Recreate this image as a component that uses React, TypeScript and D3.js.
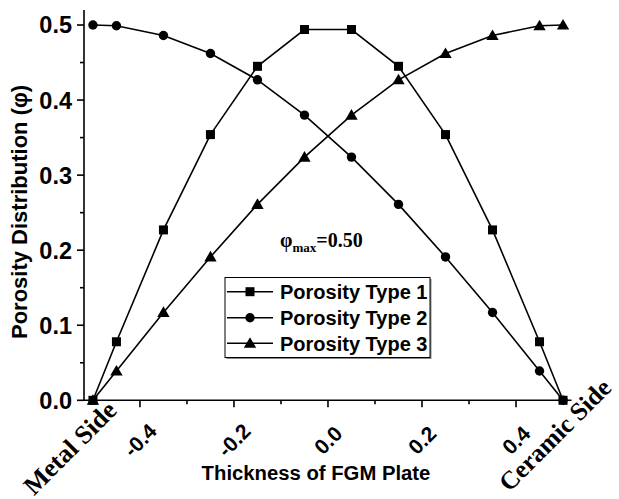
import React from "react";
import * as d3 from "d3";

// Through-thickness coordinate z/h of the FGM plate
const zPositions = [-0.5, -0.45, -0.35, -0.25, -0.15, -0.05, 0.05, 0.15, 0.25, 0.35, 0.45, 0.5];

// Porosity distribution for each porosity type
const type1 = [0, 0.078, 0.227, 0.354, 0.445, 0.494, 0.494, 0.445, 0.354, 0.227, 0.078, 0];
const type2 = [0.5, 0.499, 0.486, 0.462, 0.427, 0.38, 0.324, 0.261, 0.191, 0.117, 0.039, 0];
const type3 = [0, 0.039, 0.117, 0.191, 0.261, 0.324, 0.38, 0.427, 0.462, 0.486, 0.499, 0.5];

const seriesNames = ["Porosity Type 1", "Porosity Type 2", "Porosity Type 3"];
const seriesMarkers = ["square", "circle", "triangle"];

const xMajorTicks = [-0.4, -0.2, 0.0, 0.2, 0.4];
const xMinorTicks = [-0.5, -0.3, -0.1, 0.1, 0.3, 0.5];
const yMajorTicks = [0.0, 0.1, 0.2, 0.3, 0.4, 0.5];
const yMinorTicks = [0.05, 0.15, 0.25, 0.35, 0.45];

const W = 619;
const H = 499;
const left = 84;
const right = 571.5;
const top = 10;
const bottom = 400.3;

const sans = "'Liberation Sans', Arial, sans-serif";
const serif = "'Liberation Serif', 'Times New Roman', serif";

const fmt = (t: number) => t.toFixed(1);

function Marker({ kind, x, y }: { kind: string; x: number; y: number }) {
  if (kind === "square") {
    return <rect x={x - 4.5} y={y - 4.5} width={9} height={9} fill="#000" />;
  }
  if (kind === "circle") {
    return <circle cx={x} cy={y} r={4.7} fill="#000" />;
  }
  const s = d3.symbol(d3.symbolTriangle, 66)() as string;
  return <path d={s} transform={`translate(${x},${y + 1})`} fill="#000" />;
}

export default function App() {
  const x = d3.scaleLinear().domain([-0.519, 0.518]).range([left, right]);
  const y = d3.scaleLinear().domain([0, 0.52]).range([bottom, top]);
  const series = [type1, type2, type3];

  const line = d3
    .line<number>()
    .x((_, i) => x(zPositions[i]))
    .y((v) => y(v));

  const legendX = 225;
  const legendY = 277.5;
  const legendW = 205;
  const legendH = 80;
  const rowYs = [291.7, 317.7, 343.3];

  return (
    <svg width={W} height={H} style={{ position: "absolute", left: 0, top: 0 }}>
      <rect width={W} height={H} fill="#fff" />

      {/* data lines */}
      {series.map((vals, si) => (
        <g key={si}>
          <path d={line(vals) as string} fill="none" stroke="#000" strokeWidth={1.6} />
          {vals.map((v, i) => (
            <Marker key={i} kind={seriesMarkers[si]} x={x(zPositions[i])} y={y(v)} />
          ))}
        </g>
      ))}

      {/* axes */}
      <line x1={left} x2={left} y1={top} y2={bottom} stroke="#000" strokeWidth={1.6} />
      <line x1={left} x2={right} y1={bottom} y2={bottom} stroke="#000" strokeWidth={1.6} />

      {yMajorTicks.map((t) => (
        <g key={"ym" + t}>
          <line x1={left - 7} x2={left} y1={y(t)} y2={y(t)} stroke="#000" strokeWidth={1.6} />
          <text
            x={72}
            y={y(t)}
            dy="0.36em"
            textAnchor="end"
            fontFamily={sans}
            fontWeight="bold"
            fontSize={23.5}
          >
            {fmt(t)}
          </text>
        </g>
      ))}
      {yMinorTicks.map((t) => (
        <line key={"yn" + t} x1={left - 4} x2={left} y1={y(t)} y2={y(t)} stroke="#000" strokeWidth={1.6} />
      ))}

      {xMajorTicks.map((t) => (
        <g key={"xm" + t}>
          <line x1={x(t)} x2={x(t)} y1={bottom} y2={bottom + 7} stroke="#000" strokeWidth={1.6} />
          <text
            transform={`translate(${x(t)},${440}) rotate(-45)`}
            textAnchor="middle"
            dy="0.36em"
            fontFamily={sans}
            fontWeight="bold"
            fontSize={21}
          >
            {fmt(t)}
          </text>
        </g>
      ))}
      {xMinorTicks.map((t) => (
        <line key={"xn" + t} x1={x(t)} x2={x(t)} y1={bottom} y2={bottom + 4} stroke="#000" strokeWidth={1.6} />
      ))}

      <text
        transform="translate(70,448) rotate(-45)"
        textAnchor="middle"
        dy="0.33em"
        fontFamily={serif}
        fontWeight="bold"
        fontSize={26}
      >
        Metal Side
      </text>
      <text
        transform="translate(555,435) rotate(-45)"
        textAnchor="middle"
        dy="0.33em"
        fontFamily={serif}
        fontWeight="bold"
        fontSize={25.5}
      >
        Ceramic Side
      </text>

      {/* axis titles */}
      <text x={316} y={480} textAnchor="middle" fontFamily={sans} fontWeight="bold" fontSize={20.3}>
        Thickness of FGM Plate
      </text>
      <text
        transform="translate(27,212) rotate(-90)"
        textAnchor="middle"
        fontFamily={sans}
        fontWeight="bold"
        fontSize={22}
      >
        Porosity Distribution (φ)
      </text>

      {/* annotation */}
      <text x={280} y={247} fontFamily={serif} fontWeight="bold" fontSize={20}>
        φ<tspan fontSize={13} dy={5}>max</tspan>
        <tspan dy={-5}>=0.50</tspan>
      </text>

      {/* legend */}
      <rect x={legendX + 1.5} y={legendY + 1.5} width={legendW} height={legendH} fill="#888" />
      <rect x={legendX} y={legendY} width={legendW} height={legendH} fill="#fff" stroke="#000" strokeWidth={1} />
      {seriesNames.map((name, i) => (
        <g key={name}>
          <line x1={227} x2={273} y1={rowYs[i]} y2={rowYs[i]} stroke="#000" strokeWidth={1.6} />
          <Marker kind={seriesMarkers[i]} x={250} y={rowYs[i]} />
          <text x={280} y={rowYs[i]} dy="0.36em" fontFamily={sans} fontWeight="bold" fontSize={20}>
            {name}
          </text>
        </g>
      ))}
    </svg>
  );
}
